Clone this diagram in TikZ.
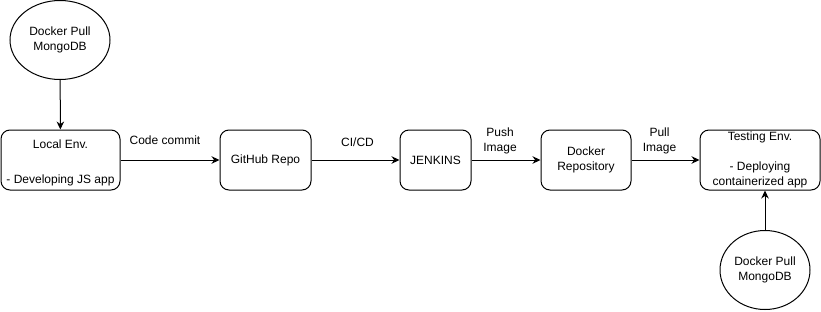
\documentclass[tikz,border=0pt]{standalone}
\usepackage{fontspec}
\setmainfont{Liberation Sans}
\usetikzlibrary{arrows.meta}
\usetikzlibrary{shapes.geometric}

\begin{document}
\begin{tikzpicture}[x=1pt, y=-1pt, line width=1pt,
  every node/.style={font=\fontsize{12}{15}\selectfont, align=center},
  box/.style={draw, rounded corners=9pt, minimum height=60pt, inner sep=0pt},
  pull/.style={draw, ellipse, inner sep=0pt},
  flow/.style={-{Stealth[length=8pt,width=7.5pt]}}]
\useasboundingbox (0,0) rectangle (821,311);

\node[pull, minimum width=100pt, minimum height=79pt] (E1) at (60, 40) {Docker Pull\\MongoDB};
\node[pull, minimum width=90pt, minimum height=79pt] (E2) at (765, 270) {Docker Pull\\MongoDB};

% text of the local box sits a little low in its frame
\node[box, minimum width=119pt,
  label={[yshift=-3pt]center:Local Env.\\[20pt]- Developing JS app}] (B1) at (60.5, 160) {};
\node[box, minimum width=91pt] (B2) at (265.5, 160) {GitHub Repo};
\node[box, minimum width=71pt] (B3) at (435.5, 160) {JENKINS};
\node[box, minimum width=90pt] (B4) at (586, 160) {Docker\\Repository};
\node[box, minimum width=120pt] (B5) at (760, 160) {Testing Env.\\[15pt]- Deploying\\containerized app};

\draw[flow] (E1) -- (B1);
\draw[flow] (E2) -- (E2 |- B5.south);

\draw[flow] (B1) -- node[above=12pt, xshift=-5pt] {Code commit} (B2);
\draw[flow] (B2) -- node[above=10pt, xshift=2pt] {CI/CD} (B3);
\draw[flow] (B3) -- node[above=2pt, xshift=-6pt] {Push\\Image} (B4);
\draw[flow] (B4) -- node[above=2pt, xshift=-6pt] {Pull\\Image} (B5);
\end{tikzpicture}
\end{document}
